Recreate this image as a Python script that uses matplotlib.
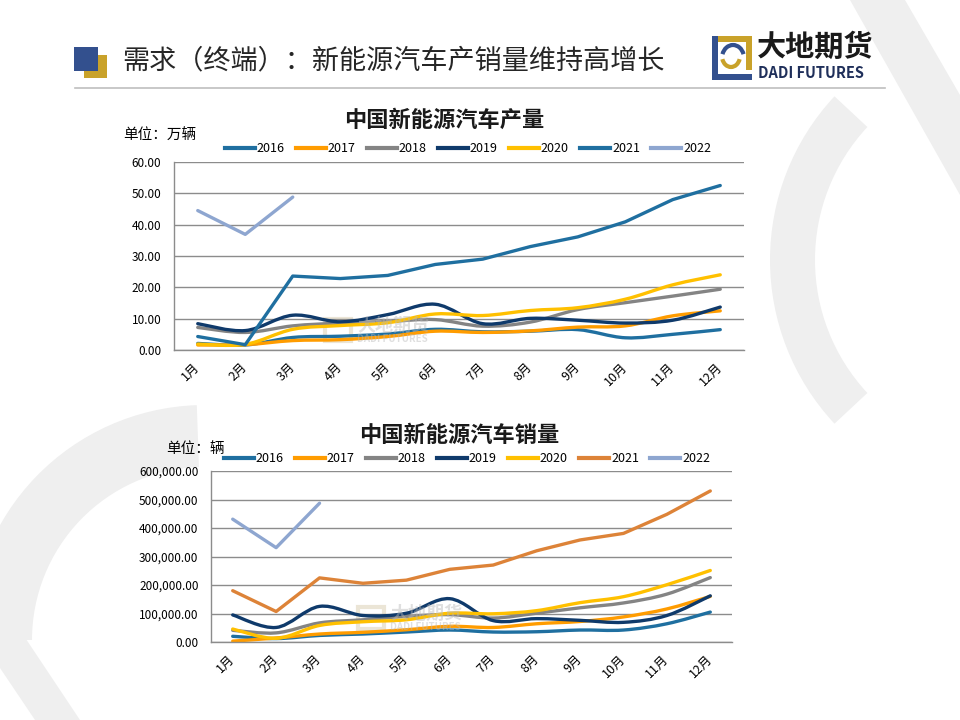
import numpy as np
import matplotlib
matplotlib.use('Agg')
from matplotlib import pyplot as plt
from matplotlib.path import Path
from matplotlib.patches import PathPatch, Rectangle, Polygon, Wedge, Arc
from matplotlib.lines import Line2D
from matplotlib.ticker import FuncFormatter

plt.rcParams['font.family'] = ['Noto Sans CJK SC', 'DejaVu Sans']

# ---- data ----
months = ['1月', '2月', '3月', '4月', '5月', '6月', '7月', '8月', '9月', '10月', '11月', '12月']
years = ['2016', '2017', '2018', '2019', '2020', '2021', '2022']

# production, 万辆
prod_2016 = [2.1, 1.6, 4.0, 4.4, 5.1, 6.6, 5.8, 6.0, 6.5, 3.9, 5.0, 6.5]
prod_2017 = [1.6, 1.7, 3.0, 3.3, 4.3, 6.0, 5.6, 6.1, 7.3, 7.7, 10.9, 12.5]
prod_2018 = [7.2, 5.6, 7.7, 8.6, 9.1, 9.7, 7.6, 8.9, 12.9, 15.1, 17.2, 19.4]
prod_2019 = [8.4, 6.2, 11.1, 9.0, 11.3, 14.6, 8.4, 10.1, 9.5, 8.6, 9.5, 13.7]
prod_2020 = [1.9, 1.8, 6.6, 7.8, 8.7, 11.5, 11.0, 12.6, 13.5, 16.2, 20.8, 24.0]
prod_2021 = [4.3, 1.7, 23.6, 22.8, 23.8, 27.3, 29.0, 33.0, 36.1, 40.9, 48.0, 52.5]
prod_2022 = [44.5, 36.9, 48.8]

# sales, 辆
sale_2016 = [20000, 12000, 23000, 28000, 35000, 42000, 35000, 36000, 42000, 42000, 64000, 105000]
sale_2017 = [3000, 14000, 28000, 34000, 43000, 55000, 51000, 64000, 72000, 88000, 116000, 160000]
sale_2018 = [41000, 32000, 67000, 78000, 90000, 96000, 84000, 101000, 120000, 137000, 168000, 226000]
sale_2019 = [95000, 51000, 125000, 93000, 101000, 152000, 75000, 82000, 76000, 69000, 93000, 162000]
sale_2020 = [45500, 13000, 58000, 71000, 78000, 101000, 99000, 110000, 138000, 159000, 201000, 251000]
sale_2021 = [180000, 107000, 225000, 206000, 217000, 255000, 270000, 320000, 358000, 381000, 448000, 530000]
sale_2022 = [431000, 331000, 487000]

prod_series = [prod_2016, prod_2017, prod_2018, prod_2019, prod_2020, prod_2021, prod_2022]
sale_series = [sale_2016, sale_2017, sale_2018, sale_2019, sale_2020, sale_2021, sale_2022]

prod_colors = ['#1f6fa0', '#ff9c00', '#848484', '#0f3a6b', '#ffc000', '#1f6fa0', '#8ea6d0']
sale_colors = ['#1f6fa0', '#ff9c00', '#848484', '#0f3a6b', '#ffc000', '#dd8338', '#8ea6d0']
smoothed = [True, True, True, True, True, False, False]

GRID = '#8c8c8c'


def smooth_path(xs, ys):
    """Catmull-Rom style bezier path, like Excel's smoothed line."""
    n = len(xs)
    verts = [(xs[0], ys[0])]
    codes = [Path.MOVETO]
    for i in range(n - 1):
        a = i - 1 if i > 0 else i
        d = i + 2 if i + 2 < n else i + 1
        c1 = (xs[i] + (xs[i + 1] - xs[a]) / 6.0, ys[i] + (ys[i + 1] - ys[a]) / 6.0)
        c2 = (xs[i + 1] - (xs[d] - xs[i]) / 6.0, ys[i + 1] - (ys[d] - ys[i]) / 6.0)
        verts += [c1, c2, (xs[i + 1], ys[i + 1])]
        codes += [Path.CURVE4] * 3
    return Path(verts, codes)


def draw_chart(ax, series, colors, ymax, step, fmt, legend_xy):
    x_all = np.arange(1, len(months) + 1)
    for vals, col, sm in zip(series, colors, smoothed):
        xs = x_all[:len(vals)]
        if sm:
            ax.add_patch(PathPatch(smooth_path(xs, vals), fill=False, edgecolor=col,
                                   lw=2.4, capstyle='round', joinstyle='round'))
        else:
            ax.plot(xs, vals, color=col, lw=2.4, solid_capstyle='round', solid_joinstyle='round')
    ax.set_xlim(0.5, len(months) + 0.5)
    ax.set_ylim(0, ymax)
    ax.set_yticks(np.arange(0, ymax + step / 2, step))
    ax.yaxis.set_major_formatter(FuncFormatter(fmt))
    ax.set_xticks(x_all)
    ax.set_xticklabels(months, rotation=45, ha='right', va='center', rotation_mode='anchor')
    ax.tick_params(axis='x', length=0, pad=11, labelsize=9)
    ax.tick_params(axis='y', length=0, pad=9, labelsize=8.5)
    ax.grid(axis='y', color=GRID, lw=1.0)
    ax.set_axisbelow(True)
    for s in ['top', 'right']:
        ax.spines[s].set_visible(False)
    for s in ['left', 'bottom']:
        ax.spines[s].set_color(GRID)
        ax.spines[s].set_linewidth(1.0)
    ax.patch.set_alpha(0)
    handles = [Line2D([], [], color=c, lw=3) for c in colors]
    ax.legend(handles, years, ncol=7, loc='center', bbox_to_anchor=legend_xy,
              bbox_transform=ax.figure.transFigure, frameon=False, fontsize=9,
              handlelength=2.4, handletextpad=0.15, columnspacing=0.9)


fig = plt.figure(figsize=(9.6, 7.2), dpi=100)
fig.patch.set_facecolor('white')

# background watermark shapes, pixel coordinates
bg = fig.add_axes([0, 0, 1, 1], zorder=-5)
bg.set_xlim(0, 960)
bg.set_ylim(720, 0)
bg.axis('off')
wm = '#efefef'
bg.add_patch(Polygon([(850, 0), (905, 0), (960, 95), (960, 195)], closed=True, color=wm, lw=0))
bg.add_patch(Wedge((1010, 260), 240, 137, 223, width=45, color=wm, lw=0))
bg.add_patch(Wedge((205, 640), 235, 180, 268, width=62, color=wm, lw=0))
bg.add_patch(Polygon([(0, 600), (80, 720), (35, 720), (0, 668)], closed=True, color=wm, lw=0))

# header
bg.add_patch(Rectangle((84, 55), 23, 23, color='#c9a22a', lw=0))
bg.add_patch(Rectangle((74, 47), 24, 24, color='#33508e', lw=0))
bg.text(122, 61, '需求（终端）：新能源汽车产销量维持高增长', fontsize=19.5, color='#262626',
        va='center', ha='left', fontweight='light')
bg.plot([75, 885], [88, 88], color='#bfbfbf', lw=1.2)

# logo
bg.add_patch(Rectangle((712, 36), 40, 6, color='#c9a22a', lw=0))
bg.add_patch(Rectangle((746, 36), 6, 34, color='#c9a22a', lw=0))
bg.add_patch(Rectangle((712, 36), 6, 44, color='#33508e', lw=0))
bg.add_patch(Rectangle((712, 74), 40, 6, color='#33508e', lw=0))
bg.add_patch(Arc((733, 58), 22, 26, theta1=200, theta2=340, color='#33508e', lw=3))
bg.add_patch(Arc((731, 56), 18, 22, theta1=20, theta2=160, color='#c9a22a', lw=3))
bg.text(757, 47, '大地期货', fontsize=21, fontweight='bold', color='#1a1a1a', va='center', ha='left')
bg.text(758, 73, 'DADI FUTURES', fontsize=10.5, fontweight='bold', color='#1f2f5a', va='center', ha='left')

# top chart: production
ax1 = fig.add_axes([174 / 960, 1 - 350 / 720, 570 / 960, 188 / 720])
draw_chart(ax1, prod_series, prod_colors, 60, 10, lambda v, p: f'{v:.2f}', (468 / 960, 1 - 149 / 720))
fig.text(444 / 960, 1 - 120 / 720, '中国新能源汽车产量', fontsize=16, fontweight='bold',
         ha='center', va='center', color='#1a1a1a')
fig.text(123 / 960, 1 - 136 / 720, '单位：万辆', fontsize=10.5, ha='left', va='center')

# bottom chart: sales
ax2 = fig.add_axes([211 / 960, 1 - 642 / 720, 521 / 960, 171 / 720])
draw_chart(ax2, sale_series, sale_colors, 600000, 100000, lambda v, p: f'{v:,.2f}',
           (467 / 960, 1 - 459 / 720))
fig.text(459 / 960, 1 - 435 / 720, '中国新能源汽车销量', fontsize=16, fontweight='bold',
         ha='center', va='center', color='#1a1a1a')
fig.text(166 / 960, 1 - 449 / 720, '单位：辆', fontsize=10.5, ha='left', va='center')

# faint logo watermark inside charts
for x0, y0 in [(325, 330), (358, 618)]:
    bg.add_patch(Rectangle((x0, y0 - 11), 26, 22, fill=False, edgecolor='#d8ccae',
                           lw=3, alpha=0.5, zorder=10))
    fig.text((x0 + 32) / 960, 1 - (y0 - 5) / 720, '大地期货', fontsize=13, fontweight='bold',
             color='#b9b9b9', alpha=0.45, ha='left', va='center')
    fig.text((x0 + 32) / 960, 1 - (y0 + 9) / 720, 'DADI FUTURES', fontsize=7, fontweight='bold',
             color='#b9b9b9', alpha=0.45, ha='left', va='center')

fig.savefig('out.png', dpi=100, facecolor='white')
